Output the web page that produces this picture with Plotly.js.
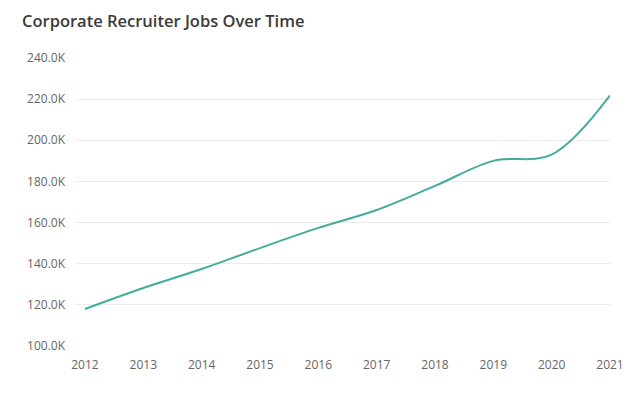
<!DOCTYPE html>
<html>
<head>
<meta charset="utf-8">
<script src="https://cdn.plot.ly/plotly-3.0.1.min.js"></script>
<style>html,body{margin:0;padding:0;background:#fff;}#chart{width:640px;height:395px;}</style>
</head>
<body>
<div id="chart"></div>
<script>
const years = [2012, 2013, 2014, 2015, 2016, 2017, 2018, 2019, 2020, 2021];
const jobs = [118000, 128200, 137400, 147600, 157400, 166100, 177800, 190000, 193000, 221800];
const yTickVals = [100000, 120000, 140000, 160000, 180000, 200000, 220000, 240000];
const yTickText = ["100.0K", "120.0K", "140.0K", "160.0K", "180.0K", "200.0K", "220.0K", "240.0K"];

const trace = {
  x: years, y: jobs, type: 'scatter', mode: 'lines',
  line: {color: '#42ad9d', width: 2, shape: 'spline', smoothing: 1},
  hoverinfo: 'x+y'
};
const layout = {
  width: 640, height: 395,
  margin: {l: 76, r: 30, t: 58, b: 49},
  paper_bgcolor: '#fff', plot_bgcolor: '#fff',
  font: {family: 'Open Sans, sans-serif', color: '#666', size: 12},
  title: {text: 'Corporate Recruiter Jobs Over Time', x: 22/640, xref: 'container', xanchor: 'left', y: 0.947, yref: 'container', yanchor: 'middle',
          font: {family: 'Open Sans, sans-serif', size: 16.5, color: '#3a3a3a', weight: 600}},
  xaxis: {range: [2011.846, 2021], tickvals: years, ticktext: years.map(String), showgrid: false, zeroline: false,
          showline: false, ticks: '', ticklabelstandoff: 10, fixedrange: true},
  yaxis: {range: [100000, 240000], tickvals: yTickVals, ticktext: yTickText, showgrid: true, gridcolor: '#ececec', gridwidth: 1,
          zeroline: false, showline: false, ticks: '', ticklabelstandoff: 10, fixedrange: true},
  showlegend: false
};
Plotly.newPlot('chart', [trace], layout, {displayModeBar: false, staticPlot: true});
</script>
</body>
</html>
